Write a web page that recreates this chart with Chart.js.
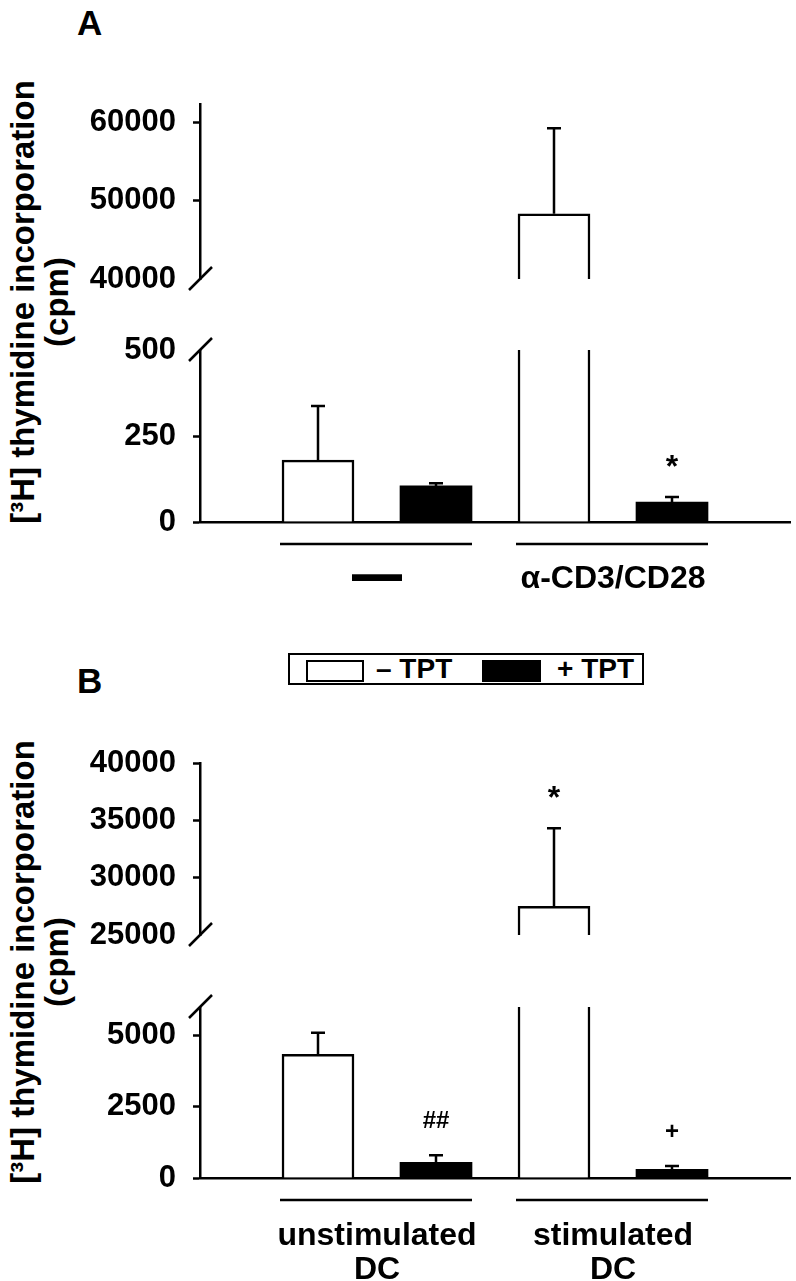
<!DOCTYPE html>
<html>
<head>
<meta charset="utf-8">
<script src="https://cdn.jsdelivr.net/npm/chart.js@4.4.1/dist/chart.umd.min.js"></script>
<style>
  body { margin: 0; background: #fff; }
  #page { position: relative; width: 796px; height: 1281px; overflow: hidden;
          font-family: "Liberation Sans", Arial, sans-serif; font-weight: bold; color: #000; }
  #page canvas { position: absolute; left: 0; }
  .panel { position: absolute; left: 77px; font-size: 35px; line-height: 35px; }
  .ytitle { position: absolute; left: -260px; width: 600px; height: 68px; font-size: 33px;
            line-height: 34px; text-align: center; white-space: nowrap; transform: rotate(-90deg); }
  #legend { position: absolute; left: 288px; top: 653px; width: 352px; height: 28px; border: 2px solid #000; }
  #legend .sw { position: absolute; top: 5px; height: 18px; border: 2px solid #000; }
  #legend .lb { position: absolute; top: 0; font-size: 28px; line-height: 28px; white-space: nowrap; }
</style>
</head>
<body>
<div id="page">
  <div class="panel" style="top:5px">A</div>
  <div class="panel" style="top:663px">B</div>
  <div class="ytitle" id="titleA" style="top:268px"></div>
  <div class="ytitle" id="titleB" style="top:928px"></div>
  <div id="legend"></div>
  <canvas id="aUpper" width="796" height="266" style="top:64px"></canvas>
  <canvas id="aLower" width="796" height="310" style="top:310px"></canvas>
  <canvas id="bUpper" width="796" height="262" style="top:723px"></canvas>
  <canvas id="bLower" width="796" height="314" style="top:967px"></canvas>
</div>
<script>
"use strict";

var seriesNames = ["– TPT", "+ TPT"];
var yTitle = ["[³H] thymidine incorporation", "(cpm)"];

// panel A
var groupsA = ["—", "α-CD3/CD28"];
var minusTptA = [180, 48300];
var minusTptErrA = [157, 10900];
var plusTptA = [105, 58];
var plusTptErrA = [8, 15];
var marksMinusA = ["", ""];
var marksPlusA = ["", "*"];
var ticksUpperA = [40000, 50000, 60000];
var ticksLowerA = [0, 250, 500];

// panel B
var groupsB = [["unstimulated", "DC"], ["stimulated", "DC"]];
var minusTptB = [4340, 27500];
var minusTptErrB = [760, 6800];
var plusTptB = [550, 300];
var plusTptErrB = [250, 120];
var marksMinusB = ["", "*"];
var marksPlusB = ["##", "+"];
var ticksUpperB = [25000, 30000, 35000, 40000];
var ticksLowerB = [0, 2500, 5000];

var FONT = '"Liberation Sans", Arial, sans-serif';
var LW = 2.5;
Chart.defaults.font.family = FONT;
Chart.defaults.color = "#000";

document.getElementById("titleA").innerHTML = yTitle.join("<br>");
document.getElementById("titleB").innerHTML = yTitle.join("<br>");

// legend box
var legend = document.getElementById("legend");
var swLeft = [16, 192], lbLeft = [86, 267], swFill = ["#fff", "#000"], swW = [54, 55];
seriesNames.forEach(function (name, i) {
    var sw = document.createElement("div");
    sw.className = "sw";
    sw.style.left = swLeft[i] + "px";
    sw.style.width = swW[i] + "px";
    sw.style.background = swFill[i];
    legend.appendChild(sw);
    var lb = document.createElement("div");
    lb.className = "lb";
    lb.style.left = lbLeft[i] + "px";
    lb.textContent = name;
    legend.appendChild(lb);
});

function textCentered(ctx, t, x, y, thick) {
    var m = ctx.measureText(t);
    var by = y + (m.actualBoundingBoxAscent - m.actualBoundingBoxDescent) / 2;
    ctx.textAlign = "center";
    ctx.textBaseline = "alphabetic";
    ctx.fillText(t, x, by);
    if (thick) {
        ctx.lineWidth = thick;
        ctx.strokeText(t, x, by);
        ctx.lineWidth = LW;
    }
}

// error bars, significance marks, axis break, group lines + labels
var decoPlugin = {
    id: "deco",
    afterDatasetsDraw: function (chart, args, opts) {
        var ctx = chart.ctx, area = chart.chartArea;
        var xs = chart.scales.x, ys = chart.scales.y;
        ctx.save();
        ctx.strokeStyle = "#000";
        ctx.fillStyle = "#000";
        ctx.lineWidth = LW;

        ctx.save();
        ctx.beginPath();
        ctx.rect(area.left, area.top, area.right - area.left, area.bottom - area.top);
        ctx.clip();
        chart.data.datasets.forEach(function (ds, di) {
            var meta = chart.getDatasetMeta(di);
            meta.data.forEach(function (bar, i) {
                var top = ys.getPixelForValue(ds.data[i].y + ds.errors[i]);
                ctx.beginPath();
                ctx.moveTo(bar.x, bar.y);
                ctx.lineTo(bar.x, top);
                ctx.moveTo(bar.x - 7, top);
                ctx.lineTo(bar.x + 7, top);
                ctx.stroke();
                var mk = ds.marks[i];
                if (mk) {
                    ctx.font = "bold " + (mk === "*" ? 32 : 24) + "px " + FONT;
                    textCentered(ctx, mk, bar.x, top - 36);
                }
            });
        });
        ctx.restore();

        // axis break
        var yb = opts.part === "upper" ? area.bottom : area.top;
        ctx.beginPath();
        ctx.moveTo(area.left - 11, yb + 11);
        ctx.lineTo(area.left + 12, yb - 12);
        ctx.stroke();

        if (opts.part === "lower") {
            opts.groups.forEach(function (g, gi) {
                var x1 = xs.getPixelForValue(2 * gi + 1) - 38;
                var x2 = xs.getPixelForValue(2 * gi + 2) + 36;
                var ly = area.bottom + 22;
                ctx.beginPath();
                ctx.moveTo(x1, ly);
                ctx.lineTo(x2, ly);
                ctx.stroke();
                var cx = xs.getPixelForValue(2 * gi + 1.5);
                var lines = Array.isArray(g) ? g : [g];
                lines.forEach(function (t, li) {
                    var dash = t === "—";
                    ctx.font = "bold " + (dash ? 48 : 32) + "px " + FONT;
                    textCentered(ctx, t, cx, area.bottom + 55 + li * 35, dash ? 2 : 0);
                });
            });
        }
        ctx.restore();
    }
};

function makeChart(id, c) {
    var bars = {
        barThickness: 72,
        grouped: false,
        clip: 0,
        borderSkipped: "start"
    };
    return new Chart(document.getElementById(id).getContext("2d"), {
        type: "bar",
        data: {
            datasets: [
                Object.assign({
                    label: seriesNames[0],
                    data: c.minus.map(function (v, i) { return { x: 2 * i + 1, y: v }; }),
                    errors: c.minusErr,
                    marks: c.marksMinus,
                    backgroundColor: "#fff",
                    borderColor: "#000",
                    borderWidth: LW
                }, bars),
                Object.assign({
                    label: seriesNames[1],
                    data: c.plus.map(function (v, i) { return { x: 2 * i + 2, y: v }; }),
                    errors: c.plusErr,
                    marks: c.marksPlus,
                    backgroundColor: "#000",
                    borderColor: "#000",
                    borderWidth: 0
                }, bars)
            ]
        },
        options: {
            responsive: false,
            animation: false,
            events: [],
            layout: { padding: { top: c.padTop, bottom: c.padBottom, left: 0, right: 6 } },
            plugins: {
                legend: { display: false },
                tooltip: { enabled: false },
                deco: { part: c.part, groups: c.groups }
            },
            scales: {
                x: {
                    type: "linear",
                    min: 0,
                    max: 5,
                    offset: false,
                    display: c.part === "lower",
                    grid: { display: false, drawTicks: false },
                    ticks: { display: false },
                    border: { display: true, color: "#000", width: LW },
                    afterFit: function (s) { s.height = 0; s.paddingLeft = 0; s.paddingRight = 0; }
                },
                y: {
                    type: "linear",
                    min: c.min,
                    max: c.max,
                    afterBuildTicks: function (s) {
                        s.ticks = c.ticks.map(function (v) { return { value: v }; });
                    },
                    afterFit: function (s) { s.width = 200; s.paddingTop = 0; s.paddingBottom = 0; },
                    grid: {
                        drawOnChartArea: false,
                        drawTicks: true,
                        tickLength: 7,
                        tickWidth: LW,
                        tickColor: function (ctx) {
                            return ctx.tick && ctx.tick.value === c.breakVal ? "rgba(0,0,0,0)" : "#000";
                        }
                    },
                    border: { display: true, color: "#000", width: LW },
                    ticks: {
                        color: "#000",
                        padding: 17,
                        font: { size: 31, weight: "bold" },
                        callback: function (v) { return String(v); }
                    }
                }
            }
        },
        plugins: [decoPlugin]
    });
}

var panelA = { groups: groupsA, minus: minusTptA, minusErr: minusTptErrA, plus: plusTptA,
               plusErr: plusTptErrA, marksMinus: marksMinusA, marksPlus: marksPlusA };
var panelB = { groups: groupsB, minus: minusTptB, minusErr: minusTptErrB, plus: plusTptB,
               plusErr: plusTptErrB, marksMinus: marksMinusB, marksPlus: marksPlusB };

makeChart("aUpper", Object.assign({ part: "upper", min: 40000, max: 62300, ticks: ticksUpperA,
    breakVal: 40000, padTop: 40, padBottom: 51 }, panelA));
makeChart("aLower", Object.assign({ part: "lower", min: 0, max: 500, ticks: ticksLowerA,
    breakVal: 500, padTop: 40, padBottom: 98 }, panelA));
makeChart("bUpper", Object.assign({ part: "upper", min: 25000, max: 40000, ticks: ticksUpperB,
    breakVal: 25000, padTop: 40, padBottom: 50 }, panelB));
makeChart("bLower", Object.assign({ part: "lower", min: 0, max: 6000, ticks: ticksLowerB,
    breakVal: 6000, padTop: 40, padBottom: 103 }, panelB));
</script>
</body>
</html>
